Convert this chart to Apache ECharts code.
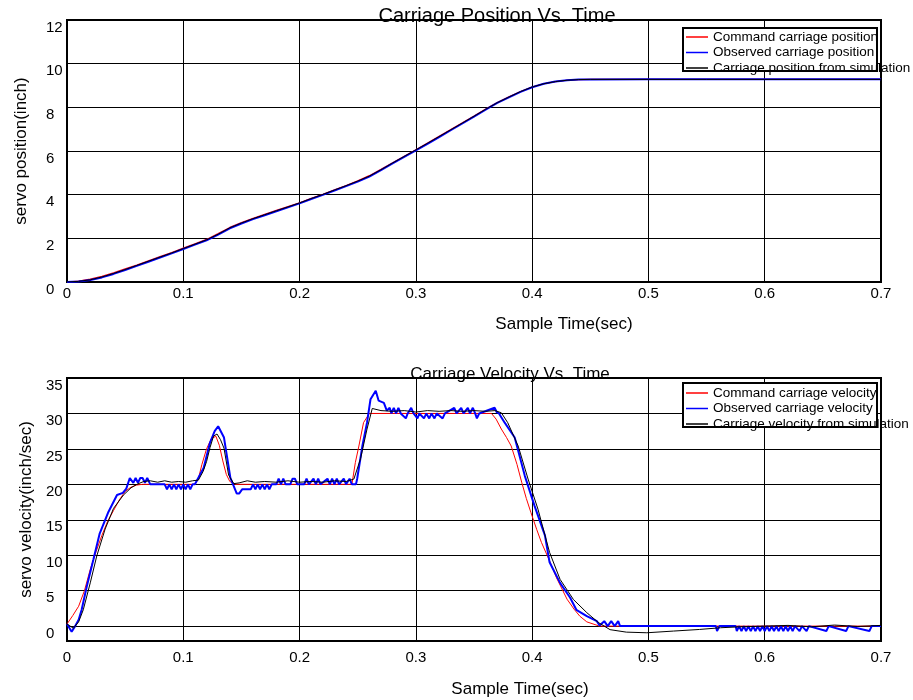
<!DOCTYPE html>
<html>
<head>
<meta charset="utf-8">
<script src="https://cdn.jsdelivr.net/npm/echarts@6/dist/echarts.min.js"></script>
<style>
  html, body { margin: 0; padding: 0; background: #fff; }
  #chart { width: 913px; height: 700px; }
</style>
</head>
<body>
<div id="chart"></div>
<script>
// position plot: common time base (sec)
const posT = [0, 0.01, 0.02, 0.03, 0.04, 0.05, 0.06, 0.07, 0.08, 0.09,
  0.10, 0.11, 0.12, 0.13, 0.14, 0.15, 0.16, 0.17, 0.18, 0.19,
  0.20, 0.21, 0.22, 0.23, 0.24, 0.25, 0.26, 0.27, 0.28, 0.29,
  0.30, 0.31, 0.32, 0.33, 0.34, 0.35, 0.36, 0.37, 0.38, 0.39,
  0.40, 0.41, 0.42, 0.43, 0.44, 0.45, 0.50, 0.55, 0.60, 0.65, 0.70]
const cmdPos = [0, 0.04, 0.13, 0.26, 0.42, 0.60, 0.78, 0.97, 1.16, 1.35,
  1.55, 1.75, 1.95, 2.22, 2.50, 2.72, 2.92, 3.10, 3.28, 3.45,
  3.63, 3.83, 4.02, 4.22, 4.42, 4.63, 4.87, 5.16, 5.46, 5.76,
  6.06, 6.36, 6.67, 6.98, 7.29, 7.60, 7.92, 8.22, 8.48, 8.72,
  8.93, 9.08, 9.18, 9.24, 9.27, 9.28, 9.28, 9.28, 9.28, 9.28, 9.28]
const obsPos = [0, 0.02, 0.09, 0.21, 0.37, 0.55, 0.74, 0.93, 1.12, 1.31,
  1.51, 1.71, 1.91, 2.17, 2.46, 2.68, 2.88, 3.06, 3.24, 3.42,
  3.60, 3.80, 3.99, 4.19, 4.39, 4.60, 4.83, 5.12, 5.43, 5.73,
  6.03, 6.33, 6.64, 6.95, 7.26, 7.57, 7.89, 8.20, 8.46, 8.71,
  8.92, 9.08, 9.18, 9.24, 9.27, 9.28, 9.29, 9.29, 9.29, 9.29, 9.29]
const simPos = [0, 0.03, 0.10, 0.23, 0.39, 0.57, 0.76, 0.95, 1.14, 1.33,
  1.53, 1.73, 1.93, 2.19, 2.48, 2.70, 2.90, 3.08, 3.26, 3.44,
  3.62, 3.82, 4.01, 4.21, 4.41, 4.62, 4.85, 5.14, 5.45, 5.75,
  6.05, 6.35, 6.66, 6.97, 7.28, 7.59, 7.91, 8.21, 8.47, 8.72,
  8.93, 9.08, 9.18, 9.24, 9.27, 9.28, 9.28, 9.28, 9.28, 9.28, 9.28]

// velocity plot: [time, inch/sec]
const cmdVel = [[0, 0.3], [0.005, 1.5], [0.01, 2.8], [0.015, 5], [0.02, 8], [0.025, 10.5],
  [0.03, 12.8], [0.035, 14.8], [0.04, 16.3], [0.045, 17.8], [0.05, 19], [0.055, 19.6],
  [0.06, 19.9], [0.065, 20], [0.11, 20], [0.113, 20.8], [0.116, 22.8], [0.12, 25],
  [0.124, 26.4], [0.128, 26.8], [0.131, 25.5], [0.134, 23.3], [0.137, 21.4], [0.14, 20.4],
  [0.145, 20], [0.245, 20], [0.248, 23.1], [0.251, 25.4], [0.255, 28.7], [0.26, 30],
  [0.365, 30], [0.369, 29.2], [0.3735, 27.8], [0.378, 26.6], [0.382, 25.4], [0.387, 22.8],
  [0.391, 20.3], [0.395, 18], [0.399, 16], [0.404, 13.6], [0.408, 11.8], [0.415, 9.2],
  [0.421, 6.8], [0.43, 3.8], [0.436, 2.4], [0.441, 1.4], [0.447, 0.6], [0.457, 0.05],
  [0.46, 0], [0.7, 0]]
const obsVel = [[0, 0.3], [0.004, -0.8], [0.007, 0], [0.01, 0.9], [0.0126, 2.3], [0.017, 5.6],
  [0.0227, 9.4], [0.028, 13], [0.0356, 16.1], [0.043, 18.5], [0.048, 18.8], [0.051, 19.4],
  [0.054, 20.9], [0.057, 20.2], [0.059, 20.9], [0.061, 20.2], [0.063, 20.9], [0.065, 20.9],
  [0.067, 20.2], [0.069, 20.9], [0.0716, 20], [0.084, 20], [0.086, 19.3], [0.088, 20],
  [0.09, 19.3], [0.092, 20], [0.094, 19.3], [0.096, 20], [0.098, 19.3], [0.1, 20],
  [0.102, 19.3], [0.104, 20], [0.106, 19.3], [0.108, 20], [0.11, 20], [0.1175, 22.3],
  [0.123, 25.9], [0.127, 27.5], [0.13, 28.2], [0.135, 26.6], [0.1405, 20.9], [0.146, 18.7],
  [0.148, 18.7], [0.1506, 19.3], [0.158, 19.3], [0.16, 20], [0.162, 19.3], [0.164, 20],
  [0.166, 19.3], [0.168, 20], [0.17, 19.3], [0.172, 20], [0.174, 19.3], [0.176, 20],
  [0.18, 20], [0.182, 20.8], [0.184, 20], [0.186, 20.8], [0.188, 20], [0.192, 20],
  [0.194, 20.8], [0.196, 20.8], [0.198, 20], [0.204, 20], [0.206, 20.8], [0.208, 20],
  [0.212, 20.8], [0.214, 20], [0.216, 20.8], [0.218, 20], [0.224, 20.8], [0.226, 20],
  [0.228, 20.8], [0.23, 20], [0.232, 20.8], [0.234, 20], [0.238, 20.8], [0.24, 20],
  [0.243, 20.8], [0.245, 20], [0.2485, 20], [0.2495, 20.75], [0.254, 25.4], [0.258, 28.7],
  [0.261, 32], [0.2655, 33.2], [0.268, 31.8], [0.2725, 31.5], [0.275, 30.4], [0.2775, 30.8],
  [0.279, 30], [0.281, 30.8], [0.283, 30], [0.285, 30.8], [0.287, 30], [0.2914, 29.3],
  [0.293, 30], [0.296, 30.8], [0.298, 30], [0.3014, 29.3], [0.303, 30], [0.307, 29.3],
  [0.309, 30], [0.3115, 29.3], [0.3135, 30], [0.316, 29.3], [0.318, 30], [0.323, 29.3],
  [0.325, 30], [0.333, 30.8], [0.335, 30], [0.339, 30.8], [0.341, 30], [0.3447, 30.8],
  [0.3465, 30], [0.349, 30.8], [0.351, 30], [0.3525, 29.3], [0.3545, 30], [0.3677, 30.8],
  [0.3695, 30.2], [0.3715, 30], [0.3764, 28.7], [0.385, 26.6], [0.3937, 21.2], [0.402, 17],
  [0.411, 12.8], [0.415, 9], [0.424, 6.1], [0.4327, 4], [0.438, 2.3], [0.447, 1.4],
  [0.4556, 0.7], [0.458, 0.1], [0.462, 0.7], [0.465, 0], [0.468, 0.7], [0.471, 0],
  [0.474, 0.7], [0.4756, 0], [0.558, 0], [0.559, -0.7], [0.561, 0], [0.575, 0],
  [0.576, -0.7], [0.578, 0], [0.58, -0.7], [0.582, 0], [0.584, -0.7], [0.586, 0],
  [0.588, -0.7], [0.59, 0], [0.592, -0.7], [0.594, 0], [0.596, -0.7], [0.598, 0],
  [0.6, -0.7], [0.602, 0], [0.604, -0.7], [0.606, 0], [0.608, -0.7], [0.61, 0],
  [0.612, -0.7], [0.614, 0], [0.616, -0.7], [0.618, 0], [0.62, -0.7], [0.622, 0],
  [0.624, -0.7], [0.626, 0], [0.63, -0.7], [0.632, 0], [0.636, -0.7], [0.638, 0],
  [0.653, -0.7], [0.655, 0], [0.67, -0.7], [0.672, 0], [0.69, -0.7], [0.692, 0], [0.7, 0]]
const simVel = [[0, 0.3], [0.0055, -0.3], [0.01, 0.6], [0.014, 2.3], [0.02, 6.1], [0.0256, 9.9],
  [0.0328, 13.7], [0.04, 16.6], [0.0486, 18.5], [0.055, 19.5], [0.06, 20], [0.066, 20.4],
  [0.0716, 20.5], [0.078, 20.3], [0.084, 20.5], [0.09, 20.3], [0.096, 20.4], [0.102, 20.3],
  [0.108, 20.5], [0.113, 20.6], [0.117, 21.8], [0.12, 23.2], [0.123, 25.2], [0.126, 26.8],
  [0.129, 27.1], [0.132, 26.3], [0.135, 25.1], [0.139, 21.3], [0.1434, 20.1], [0.148, 20.2],
  [0.155, 20.5], [0.162, 20.3], [0.17, 20.4], [0.18, 20.3], [0.19, 20.5], [0.2, 20.3],
  [0.21, 20.4], [0.22, 20.3], [0.23, 20.5], [0.24, 20.4], [0.2467, 20.75], [0.2524, 23.6],
  [0.258, 27.8], [0.2625, 30.7], [0.264, 30.8], [0.27, 30.4], [0.28, 30.3], [0.29, 30.4],
  [0.3, 30.2], [0.31, 30.4], [0.32, 30.3], [0.33, 30.4], [0.34, 30.3], [0.35, 30.4],
  [0.36, 30.3], [0.368, 30.4], [0.3735, 30.1], [0.379, 28.7], [0.388, 25.4], [0.3965, 20.75],
  [0.405, 16.5], [0.415, 10.4], [0.424, 6.6], [0.4355, 3.75], [0.447, 1.9], [0.457, 0.5],
  [0.467, -0.5], [0.481, -0.85], [0.4986, -0.94], [0.5215, -0.7], [0.544, -0.47], [0.562, -0.23],
  [0.579, -0.1], [0.6, 0], [0.62, 0.1], [0.64, -0.1], [0.66, 0.15], [0.68, -0.05], [0.7, 0.1]]

const velTicks = [0, 5, 10, 15, 20, 25, 30, 35]

const font = 'Liberation Sans, Arial, Helvetica, sans-serif'
const RED = '#ff0000'
const BLUE = '#0000ff'
const BLACK = '#000000'

const zip = (t, v) => t.map((x, i) => [x, v[i]])

function xAxisOpt(gridIndex, labelMargin, nameGap, namePad) {
  return {
    type: 'value',
    gridIndex,
    min: 0,
    max: 0.7,
    interval: 0.1,
    name: 'Sample Time(sec)',
    nameLocation: 'middle',
    nameGap,
    nameTextStyle: { color: '#000', fontSize: 17, padding: [0, 0, 0, namePad] },
    axisLine: { show: false },
    axisTick: { show: false },
    axisLabel: { color: '#000', fontSize: 15, margin: labelMargin },
    splitLine: { show: true, lineStyle: { color: '#000', width: 1 } }
  }
}

function legendOpt(top, names) {
  return {
    orient: 'vertical', left: 686, top, z: 5,
    icon: 'rect', itemWidth: 22, itemHeight: 1.5, itemGap: 1.5, padding: 0,
    textStyle: { fontSize: 13.5, lineHeight: 12, color: '#000' },
    data: names
  }
}

const chart = echarts.init(document.getElementById('chart'))
chart.setOption({
  animation: false,
  textStyle: { fontFamily: font },
  title: [
    {
      text: 'Carriage Position Vs. Time',
      left: 497, top: 6, padding: 0, textAlign: 'center',
      textStyle: { fontSize: 20, fontWeight: 'normal', color: '#000' }
    },
    {
      text: 'Carriage Velocity Vs. Time',
      left: 510, top: 366, padding: 0, textAlign: 'center',
      textStyle: { fontSize: 17, fontWeight: 'normal', color: '#000' }
    }
  ],
  grid: [
    { left: 67, top: 20, width: 814, height: 262, show: true, borderColor: '#000', borderWidth: 2 },
    { left: 67, top: 378, width: 814, height: 263, show: true, borderColor: '#000', borderWidth: 2 }
  ],
  legend: [
    legendOpt(30, ['Command carriage position', 'Observed carriage position', 'Carriage position from simulation']),
    legendOpt(386, ['Command carriage velocity', 'Observed carriage velocity', 'Carriage velocity from simulation'])
  ],
  graphic: [
    { type: 'rect', z: 3, shape: { x: 683, y: 28, width: 194, height: 43 },
      style: { fill: '#fff', stroke: '#000', lineWidth: 2 } },
    { type: 'rect', z: 3, shape: { x: 683, y: 383, width: 194, height: 44 },
      style: { fill: '#fff', stroke: '#000', lineWidth: 2 } }
  ],
  xAxis: [
    xAxisOpt(0, 4, 34, 180),
    xAxisOpt(1, 9, 40, 92)
  ],
  yAxis: [
    {
      type: 'value', gridIndex: 0, min: 0, max: 12, interval: 2,
      name: 'servo position(inch)', nameLocation: 'middle', nameGap: 37,
      nameTextStyle: { color: '#000', fontSize: 17 },
      axisLine: { show: false }, axisTick: { show: false },
      axisLabel: { color: '#000', fontSize: 15, align: 'left', margin: 21, verticalAlign: 'top' },
      splitLine: { show: true, lineStyle: { color: '#000', width: 1 } }
    },
    {
      type: 'value', gridIndex: 1, min: -2.1, max: 35,
      name: 'servo velocity(inch/sec)', nameLocation: 'middle', nameGap: 32,
      nameTextStyle: { color: '#000', fontSize: 17 },
      axisLine: { show: false },
      axisTick: { show: false, customValues: velTicks },
      axisLabel: { color: '#000', fontSize: 15, align: 'left', margin: 21, verticalAlign: 'top', customValues: velTicks },
      splitLine: { show: true, lineStyle: { color: '#000', width: 1 } }
    }
  ],
  series: [
    { name: 'Command carriage position', type: 'line', xAxisIndex: 0, yAxisIndex: 0, symbol: 'none',
      data: zip(posT, cmdPos), lineStyle: { color: RED, width: 1.2 }, itemStyle: { color: RED } },
    { name: 'Observed carriage position', type: 'line', xAxisIndex: 0, yAxisIndex: 0, symbol: 'none',
      data: zip(posT, obsPos), lineStyle: { color: BLUE, width: 2 }, itemStyle: { color: BLUE } },
    { name: 'Carriage position from simulation', type: 'line', xAxisIndex: 0, yAxisIndex: 0, symbol: 'none',
      data: zip(posT, simPos), lineStyle: { color: BLACK, width: 1 }, itemStyle: { color: BLACK } },
    { name: 'Command carriage velocity', type: 'line', xAxisIndex: 1, yAxisIndex: 1, symbol: 'none',
      data: cmdVel, lineStyle: { color: RED, width: 1 }, itemStyle: { color: RED } },
    { name: 'Observed carriage velocity', type: 'line', xAxisIndex: 1, yAxisIndex: 1, symbol: 'none',
      data: obsVel, lineStyle: { color: BLUE, width: 2 }, itemStyle: { color: BLUE } },
    { name: 'Carriage velocity from simulation', type: 'line', xAxisIndex: 1, yAxisIndex: 1, symbol: 'none',
      data: simVel, lineStyle: { color: BLACK, width: 1 }, itemStyle: { color: BLACK } }
  ]
})
window.addEventListener('resize', () => chart.resize())
</script>
</body>
</html>
